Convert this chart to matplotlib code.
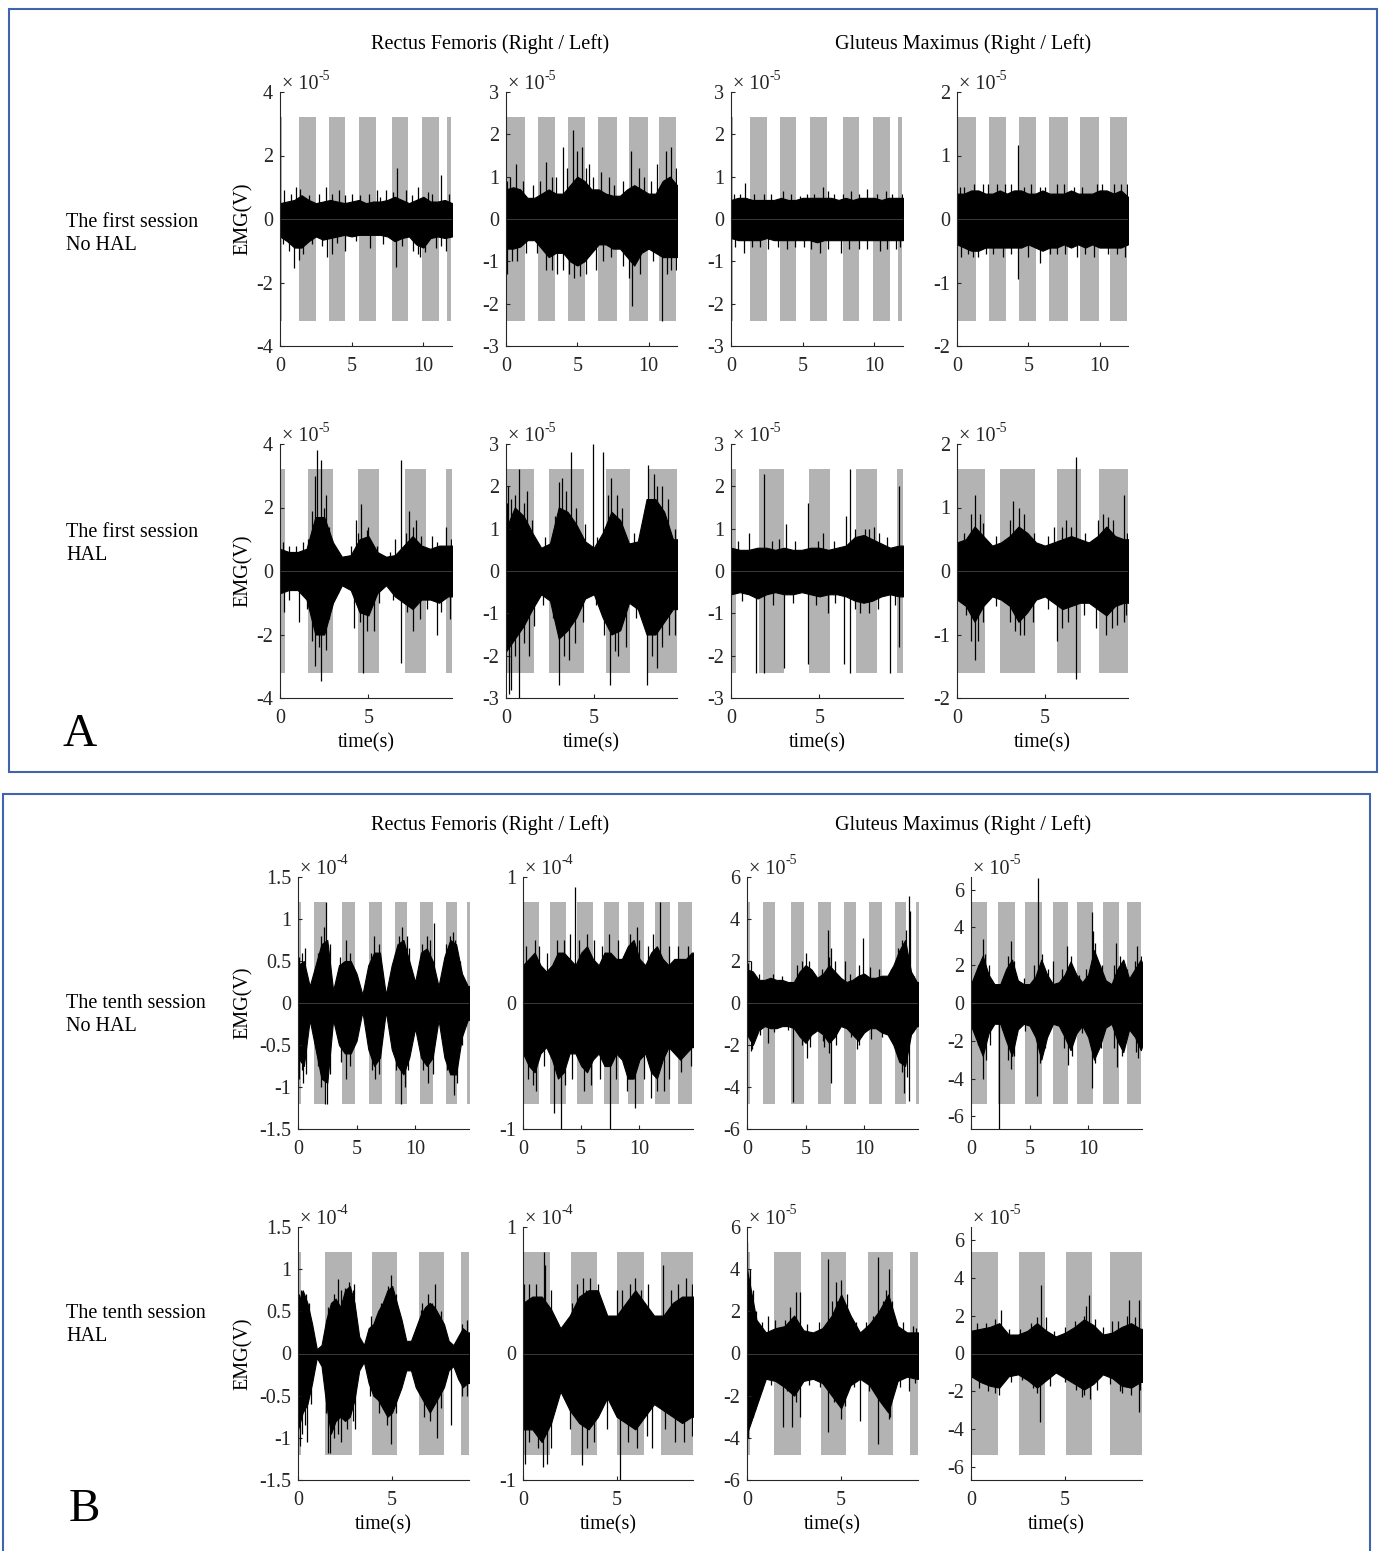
import numpy as np
import matplotlib
matplotlib.use('Agg')
import matplotlib.pyplot as plt
from matplotlib.patches import Rectangle

plt.rcParams['font.family'] = ['Liberation Serif', 'DejaVu Serif']
plt.rcParams['axes.unicode_minus'] = False

# ---------------------------------------------------------------
# data, amplitudes in units of the axis scale
# up/lo = outer envelope of the EMG trace on a regular time grid
# spk = single spikes (t, value)
# ---------------------------------------------------------------

# A, first session, no HAL  (grid 0.5 s)
s1n_bands_r = [(0, 0.13), (1.35, 2.5), (3.44, 4.55), (5.52, 6.68), (7.82, 8.91), (9.94, 11.08), (11.66, 11.94)]
s1n_bands_l = [(0, 1.35), (2.22, 3.44), (4.35, 5.51), (6.49, 7.82), (8.64, 9.94), (10.75, 11.95)]

s1n_rfr_up = [0.5, 0.55, 0.6, 0.75, 0.6, 0.5, 0.55, 0.6, 0.55, 0.5, 0.55, 0.6, 0.5, 0.55, 0.55, 0.6, 0.7, 0.6, 0.5, 0.6, 0.7, 0.55, 0.55, 0.6, 0.5]
s1n_rfr_lo = [-0.55, -0.7, -0.9, -0.9, -0.7, -0.55, -0.65, -0.6, -0.55, -0.5, -0.55, -0.5, -0.5, -0.5, -0.5, -0.55, -0.7, -0.6, -0.55, -0.8, -0.9, -0.6, -0.55, -0.6, -0.55]
s1n_rfr_spk = [(0.3, 0.9), (1.1, 1.0), (1.4, 0.95), (3.2, 1.0), (4.1, 0.9), (5.0, 0.8), (6.8, 0.9), (7.4, 0.9), (8.15, 1.6), (8.8, 0.9),
               (9.6, 1.0), (10.6, 0.8), (11.2, 1.4), (0.8, 0.8), (2.0, 0.75), (2.7, 0.8), (3.6, 0.8), (4.5, 0.75), (5.6, 0.75),
               (6.2, 0.8), (7.0, 0.7), (7.9, 0.85), (9.2, 0.75), (10.3, 0.85), (11.8, 0.8),
               (0.6, -1.0), (0.95, -1.55), (1.3, -1.3), (3.3, -1.2), (3.6, -1.1), (4.5, -1.0), (6.3, -0.9), (8.1, -1.5),
               (9.6, -1.1), (9.8, -1.2), (10.9, -0.9), (11.6, -1.0), (0.2, -0.8), (1.6, -1.1), (2.2, -0.8), (2.9, -0.85),
               (4.0, -0.75), (5.3, -0.7), (7.2, -0.8), (8.5, -0.85), (9.3, -1.0), (10.1, -1.05), (11.2, -0.85)]

s1n_rfl_up = [0.7, 0.75, 0.7, 0.5, 0.5, 0.6, 0.7, 0.6, 0.6, 0.8, 1.0, 0.9, 0.7, 0.7, 0.6, 0.55, 0.55, 0.7, 0.8, 0.7, 0.6, 0.6, 0.9, 1.0, 0.8]
s1n_rfl_lo = [-0.7, -0.7, -0.65, -0.5, -0.5, -0.7, -0.9, -0.8, -0.8, -1.0, -1.1, -1.0, -0.8, -0.6, -0.6, -0.7, -0.7, -0.9, -1.1, -0.8, -0.7, -0.8, -0.9, -0.9, -0.9]
s1n_rfl_spk = [(0.1, 0.9), (0.7, 1.3), (2.8, 1.35), (3.5, 1.0), (4.0, 1.7), (4.7, 2.1), (5.0, 1.6), (5.3, 1.7), (5.8, 1.3), (7.2, 1.0),
               (8.8, 1.6), (9.3, 1.2), (10.6, 1.3), (11.2, 1.6), (11.6, 1.7), (0.3, 1.0), (1.2, 0.9), (1.9, 0.8), (2.4, 0.9),
               (3.2, 1.0), (4.3, 1.2), (5.6, 1.2), (6.1, 1.0), (6.7, 1.1), (7.6, 0.8), (8.2, 0.9), (9.7, 1.0), (10.2, 0.9), (11.9, 1.2),
               (0.05, -1.3), (0.4, -1.0), (2.8, -1.2), (3.6, -1.3), (4.4, -1.3), (5.2, -1.35), (6.3, -1.2), (8.6, -1.4),
               (8.85, -2.05), (10.95, -2.4), (11.3, -1.3), (11.9, -1.2), (0.8, -1.0), (1.4, -0.8), (2.2, -0.8), (3.2, -1.2),
               (4.0, -1.2), (4.8, -1.4), (5.6, -1.3), (6.8, -1.0), (7.4, -0.9), (8.2, -1.1), (9.4, -1.3), (10.3, -1.0), (11.6, -1.2)]

s1n_gmr_up = [0.45, 0.5, 0.5, 0.45, 0.45, 0.45, 0.45, 0.5, 0.45, 0.45, 0.5, 0.5, 0.5, 0.5, 0.5, 0.45, 0.5, 0.45, 0.5, 0.5, 0.5, 0.45, 0.5, 0.5, 0.5]
s1n_gmr_lo = [-0.45, -0.5, -0.5, -0.5, -0.5, -0.45, -0.5, -0.5, -0.5, -0.5, -0.5, -0.5, -0.55, -0.5, -0.5, -0.5, -0.5, -0.5, -0.5, -0.5, -0.5, -0.5, -0.5, -0.5, -0.5]
s1n_gmr_spk = [(0.2, 0.6), (1.0, 0.86), (2.3, 0.6), (3.6, 0.65), (5.3, 0.6), (6.4, 0.75), (7.2, 0.6), (8.4, 0.65), (9.5, 0.7), (11.2, 0.6),
               (11.9, 0.6), (0.6, 0.6), (1.6, 0.6), (2.8, 0.6), (4.2, 0.6), (4.8, 0.55), (5.8, 0.6), (6.8, 0.65), (7.8, 0.6),
               (8.9, 0.6), (10.2, 0.6), (10.8, 0.65),
               (0.9, -0.8), (2.0, -0.65), (3.9, -0.7), (5.1, -0.65), (6.2, -0.8), (7.7, -0.8), (8.9, -0.7), (10.4, -0.75),
               (11.5, -0.7), (0.3, -0.65), (1.5, -0.65), (2.6, -0.7), (3.3, -0.65), (4.5, -0.65), (5.6, -0.7), (6.8, -0.7),
               (8.2, -0.7), (9.5, -0.7), (10.9, -0.7), (11.8, -0.65)]

s1n_gml_up = [0.4, 0.4, 0.45, 0.45, 0.4, 0.4, 0.45, 0.4, 0.45, 0.45, 0.4, 0.4, 0.45, 0.4, 0.4, 0.4, 0.45, 0.4, 0.4, 0.4, 0.45, 0.45, 0.4, 0.45, 0.35]
s1n_gml_lo = [-0.4, -0.45, -0.5, -0.5, -0.45, -0.45, -0.45, -0.45, -0.45, -0.45, -0.4, -0.45, -0.5, -0.45, -0.45, -0.4, -0.45, -0.4, -0.45, -0.4, -0.45, -0.45, -0.45, -0.45, -0.4]
s1n_gml_spk = [(0.5, 0.5), (1.8, 0.55), (3.4, 0.55), (4.3, 1.17), (4.7, 0.5), (6.2, 0.5), (8.2, 0.5), (9.8, 0.55), (11.5, 0.55),
               (0.2, 0.5), (1.2, 0.55), (2.2, 0.55), (2.8, 0.55), (3.8, 0.55), (5.2, 0.55), (5.8, 0.5), (7.0, 0.55), (7.5, 0.55),
               (8.8, 0.5), (10.2, 0.55), (11.0, 0.55), (11.9, 0.55),
               (0.8, -0.55), (1.5, -0.6), (2.5, -0.55), (4.3, -0.95), (5.8, -0.7), (7.0, -0.55), (9.0, -0.55), (10.6, -0.55),
               (11.8, -0.6), (0.3, -0.6), (1.1, -0.6), (2.0, -0.55), (3.2, -0.6), (3.8, -0.55), (5.0, -0.6), (6.5, -0.55),
               (7.6, -0.55), (8.4, -0.6), (9.6, -0.6), (11.2, -0.55)]

# A, first session, HAL  (grid 0.5 s)
s1h_bands_r = [(0, 0.28), (1.6, 2.98), (4.43, 5.6), (7.07, 8.25), (9.4, 9.73)]
s1h_bands_l = [(0, 1.6), (2.42, 4.43), (5.68, 7.08), (8.07, 9.75)]

s1h_rfr_up = [0.7, 0.6, 0.6, 0.7, 1.7, 1.7, 0.9, 0.45, 0.5, 1.0, 1.1, 0.6, 0.45, 0.5, 0.8, 1.1, 0.8, 0.7, 0.8, 0.8, 0.8]
s1h_rfr_lo = [-0.7, -0.6, -0.6, -0.9, -2.0, -2.0, -1.0, -0.45, -0.6, -1.3, -1.4, -0.7, -0.45, -0.8, -1.0, -1.2, -0.9, -0.9, -1.0, -0.8, -0.8]
s1h_rfr_spk = [(0.15, 0.9), (1.3, 0.9), (2.0, 3.0), (2.1, 3.8), (2.3, 3.5), (2.6, 2.4), (4.3, 1.6), (4.6, 2.1), (5.0, 1.4), (6.5, 1.0),
               (6.85, 3.5), (7.3, 1.9), (7.7, 1.6), (8.6, 1.1), (9.4, 1.4), (0.5, 0.8), (0.9, 0.8), (1.6, 1.0), (1.8, 1.9),
               (2.5, 2.0), (2.8, 1.4), (3.3, 0.6), (4.0, 0.8), (4.4, 1.2), (4.9, 1.3), (5.5, 0.8), (6.2, 0.6), (7.1, 1.2),
               (7.5, 1.4), (8.0, 1.1), (8.9, 0.9), (9.7, 1.0),
               (0.2, -1.3), (1.1, -1.6), (2.0, -3.0), (2.3, -3.45), (2.6, -2.5), (4.2, -1.8), (4.7, -3.2), (5.3, -1.9),
               (6.85, -2.9), (7.5, -1.9), (8.9, -2.0), (9.6, -1.5), (0.5, -0.9), (1.5, -1.2), (1.8, -2.2), (2.2, -2.4),
               (2.8, -1.5), (3.3, -0.7), (4.5, -1.6), (4.9, -1.9), (5.6, -1.0), (6.4, -0.9), (7.2, -1.3), (7.9, -1.5),
               (8.3, -1.2), (9.1, -1.3)]

s1h_rfl_up = [1.0, 1.5, 1.3, 0.9, 0.55, 0.65, 1.5, 1.4, 1.1, 0.7, 0.55, 0.9, 1.4, 1.2, 0.65, 0.7, 1.7, 1.7, 1.4, 0.75, 0.75]
s1h_rfl_lo = [-1.9, -1.6, -1.3, -0.9, -0.55, -0.7, -1.6, -1.4, -1.1, -0.65, -0.55, -1.1, -1.5, -1.4, -0.75, -0.9, -1.5, -1.5, -1.2, -0.9, -0.9]
s1h_rfl_spk = [(0.05, 1.6), (0.1, 2.0), (0.75, 2.4), (1.2, 1.9), (3.0, 2.1), (3.2, 2.2), (3.7, 2.8), (4.95, 3.0), (5.5, 2.8), (6.0, 2.2),
               (6.3, 1.8), (8.1, 2.5), (8.4, 2.3), (8.9, 2.0), (0.3, 1.7), (0.5, 1.8), (1.0, 1.6), (1.5, 1.2), (2.2, 0.8),
               (2.8, 1.3), (3.4, 1.9), (4.0, 1.5), (4.5, 1.1), (5.2, 0.8), (5.8, 1.8), (6.6, 1.5), (7.3, 0.9), (7.8, 1.2),
               (8.6, 2.0), (9.2, 1.7), (9.6, 1.0),
               (0.15, -2.9), (0.3, -2.8), (0.75, -3.0), (1.3, -2.0), (3.0, -2.7), (3.6, -2.1), (5.9, -2.7), (6.4, -2.0),
               (8.0, -2.7), (8.6, -2.3), (9.6, -1.5), (0.5, -2.0), (1.0, -1.7), (1.6, -1.3), (2.1, -0.8), (2.7, -1.1),
               (3.3, -2.0), (3.9, -1.7), (4.4, -1.2), (5.1, -0.8), (5.6, -1.5), (6.2, -1.9), (6.8, -1.8), (7.4, -1.1),
               (8.3, -2.0), (8.9, -1.8), (9.3, -1.5)]

s1h_gmr_up = [0.55, 0.5, 0.5, 0.55, 0.55, 0.5, 0.55, 0.5, 0.5, 0.55, 0.55, 0.5, 0.55, 0.6, 0.8, 0.85, 0.75, 0.65, 0.55, 0.6, 0.6]
s1h_gmr_lo = [-0.55, -0.5, -0.55, -0.65, -0.55, -0.5, -0.55, -0.55, -0.5, -0.55, -0.6, -0.55, -0.55, -0.6, -0.7, -0.75, -0.7, -0.6, -0.55, -0.6, -0.6]
s1h_gmr_spk = [(1.0, 0.9), (1.85, 2.3), (3.1, 1.1), (4.35, 1.6), (5.2, 0.9), (6.5, 1.3), (6.75, 2.4), (7.6, 1.0), (8.4, 0.9), (9.5, 2.0),
               (0.4, 0.7), (2.3, 0.7), (2.7, 0.75), (3.6, 0.7), (4.9, 0.7), (5.8, 0.7), (7.0, 1.0), (7.8, 1.0), (8.1, 1.05), (8.8, 0.8),
               (1.4, -2.4), (1.85, -2.4), (3.0, -2.3), (4.35, -2.2), (5.5, -1.0), (6.4, -2.2), (6.75, -2.4), (7.3, -1.0),
               (9.0, -2.4), (9.5, -1.8), (0.6, -0.7), (2.4, -0.8), (3.5, -0.75), (4.8, -0.8), (5.9, -0.75), (7.0, -0.9),
               (7.8, -1.0), (8.3, -0.9), (9.3, -0.8)]

s1h_gml_up = [0.45, 0.5, 0.7, 0.55, 0.4, 0.45, 0.55, 0.7, 0.6, 0.45, 0.4, 0.45, 0.5, 0.55, 0.5, 0.45, 0.55, 0.7, 0.55, 0.5, 0.5]
s1h_gml_lo = [-0.45, -0.55, -0.8, -0.55, -0.4, -0.45, -0.55, -0.8, -0.65, -0.45, -0.4, -0.5, -0.6, -0.55, -0.5, -0.5, -0.6, -0.7, -0.55, -0.5, -0.5]
s1h_gml_spk = [(1.0, 1.2), (1.3, 0.9), (3.2, 1.1), (3.5, 1.0), (5.5, 0.7), (6.2, 0.8), (6.75, 1.8), (8.3, 0.9), (8.6, 0.85), (9.5, 1.2),
               (0.4, 0.6), (0.8, 0.9), (1.5, 0.75), (2.2, 0.55), (3.0, 0.8), (3.8, 0.9), (4.4, 0.6), (5.2, 0.55), (6.0, 0.7),
               (6.5, 0.7), (7.3, 0.6), (8.0, 0.8), (8.9, 0.8), (9.7, 0.6),
               (1.0, -1.4), (1.2, -1.1), (3.3, -0.95), (3.6, -1.0), (5.7, -1.1), (6.0, -0.9), (6.75, -1.7), (8.5, -1.0),
               (9.1, -0.85), (9.5, -0.8), (0.5, -0.7), (0.8, -1.1), (1.5, -0.8), (2.2, -0.55), (3.0, -0.8), (3.8, -1.0),
               (4.3, -0.8), (5.2, -0.6), (6.3, -0.8), (7.2, -0.7), (7.9, -0.9), (8.8, -0.9), (9.6, -0.7)]

# B, tenth session, no HAL  (grid 0.5 s)
s10n_bands_r = [(0, 0.23), (1.4, 2.4), (3.75, 4.86), (6.07, 7.2), (8.3, 9.27), (10.45, 11.5), (12.65, 13.58), (14.4, 14.7)]
s10n_bands_l = [(0, 1.4), (2.3, 3.72), (4.63, 6.02), (6.96, 8.28), (9.03, 10.38), (11.3, 12.63), (13.33, 14.55)]

s10n_rfr_up = [0.45, 0.5, 0.2, 0.45, 0.7, 0.75, 0.15, 0.45, 0.5, 0.5, 0.35, 0.1, 0.45, 0.6, 0.6, 0.1, 0.45, 0.7, 0.75, 0.5, 0.25, 0.6, 0.65, 0.5, 0.2, 0.55, 0.75, 0.7, 0.35, 0.2, 0.2]
s10n_rfr_lo = [-0.65, -0.75, -0.2, -0.55, -0.9, -0.95, -0.2, -0.5, -0.6, -0.6, -0.45, -0.1, -0.55, -0.75, -0.65, -0.1, -0.55, -0.75, -0.85, -0.65, -0.3, -0.65, -0.75, -0.65, -0.2, -0.65, -0.85, -0.85, -0.4, -0.2, -0.2]
s10n_rfr_spk = [(0.3, 0.6), (2.2, 0.9), (2.4, 1.2), (4.1, 0.75), (6.5, 0.8), (8.9, 0.9), (9.3, 0.8), (11.0, 0.8), (11.6, 0.95), (13.0, 0.8),
                (13.4, 0.75), (0.1, 0.55), (0.6, 0.65), (1.7, 0.6), (2.0, 0.8), (2.7, 0.7), (3.6, 0.55), (4.4, 0.6), (6.2, 0.6),
                (6.9, 0.7), (8.3, 0.6), (8.6, 0.8), (9.5, 0.65), (10.6, 0.7), (11.3, 0.75), (12.6, 0.7), (13.2, 0.85), (13.8, 0.5),
                (0.05, -0.9), (0.45, -0.95), (2.3, -1.2), (2.5, -1.2), (4.1, -0.9), (6.6, -0.9), (8.8, -1.2), (9.1, -1.0),
                (11.1, -0.95), (13.3, -1.1), (0.3, -0.8), (0.7, -0.85), (1.7, -0.75), (2.0, -1.0), (2.7, -0.85), (3.7, -0.7),
                (4.4, -0.75), (6.3, -0.8), (6.9, -0.85), (8.4, -0.8), (9.4, -0.8), (10.7, -0.8), (11.5, -0.85), (12.7, -0.8),
                (13.6, -0.95), (14.0, -0.5)]

s10n_rfl_up = [0.3, 0.35, 0.4, 0.3, 0.25, 0.3, 0.4, 0.4, 0.35, 0.3, 0.4, 0.45, 0.35, 0.3, 0.4, 0.4, 0.35, 0.35, 0.45, 0.5, 0.35, 0.3, 0.4, 0.45, 0.35, 0.3, 0.35, 0.35, 0.35, 0.4, 0.4]
s10n_rfl_lo = [-0.4, -0.5, -0.55, -0.4, -0.35, -0.45, -0.6, -0.55, -0.4, -0.4, -0.5, -0.55, -0.45, -0.4, -0.5, -0.5, -0.4, -0.45, -0.6, -0.6, -0.45, -0.4, -0.55, -0.6, -0.45, -0.35, -0.4, -0.45, -0.4, -0.35, -0.35]
s10n_rfl_spk = [(4.45, 0.92), (11.8, 0.8), (7.4, 0.55), (2.9, 0.5), (5.5, 0.55), (9.8, 0.6), (10.7, 0.45), (1.0, 0.5),
                (0.3, 0.45), (1.4, 0.45), (2.1, 0.4), (3.5, 0.5), (4.0, 0.55), (4.8, 0.5), (6.1, 0.5), (6.8, 0.45), (8.2, 0.5),
                (9.2, 0.55), (10.0, 0.5), (11.2, 0.55), (12.5, 0.45), (13.3, 0.45), (14.2, 0.45),
                (3.25, -1.0), (7.45, -1.0), (2.7, -0.87), (9.6, -0.83), (11.0, -0.75), (5.2, -0.7), (12.1, -0.7), (0.9, -0.65),
                (0.4, -0.6), (1.1, -0.7), (1.8, -0.5), (3.6, -0.65), (4.2, -0.6), (5.8, -0.65), (6.6, -0.6), (8.0, -0.6),
                (8.9, -0.7), (10.4, -0.6), (11.5, -0.7), (12.5, -0.6), (13.6, -0.55), (14.4, -0.5)]

s10n_gmr_up = [1.6, 1.5, 1.1, 1.1, 1.2, 1.1, 1.1, 1.0, 1.0, 1.5, 1.8, 1.6, 1.2, 1.4, 1.8, 1.5, 1.2, 1.0, 1.1, 1.3, 1.4, 1.2, 1.2, 1.3, 1.3, 1.8, 2.5, 3.0, 1.5, 1.0, 1.0]
s10n_gmr_lo = [-1.5, -2.0, -1.3, -1.1, -1.2, -1.2, -1.1, -1.1, -1.2, -1.6, -1.9, -1.5, -1.3, -1.5, -1.9, -1.6, -1.1, -1.2, -1.5, -1.8, -1.4, -1.2, -1.2, -1.4, -1.5, -2.0, -2.8, -3.0, -1.5, -1.1, -1.1]
s10n_gmr_spk = [(0.05, 1.9), (5.0, 2.4), (6.9, 3.5), (7.2, 2.6), (9.9, 3.1), (8.4, 2.0), (13.8, 5.1), (13.9, 4.4), (12.9, 2.6), (4.3, 1.8),
                (0.3, 2.0), (1.0, 1.4), (2.2, 1.4), (3.0, 1.3), (4.7, 2.0), (5.3, 2.0), (6.4, 1.6), (7.0, 2.2), (7.5, 2.0),
                (8.8, 1.4), (9.6, 1.8), (10.5, 1.7), (11.3, 1.6), (12.3, 1.6), (12.7, 2.0), (13.2, 3.0), (13.6, 3.5), (14.3, 1.3),
                (0.3, -2.3), (3.9, -4.7), (5.1, -2.6), (7.2, -3.8), (9.4, -2.2), (13.4, -4.3), (13.85, -4.65), (1.8, -1.9),
                (6.6, -2.1), (0.4, -2.2), (1.1, -1.5), (2.3, -1.4), (3.5, -1.3), (4.7, -2.0), (5.4, -2.1), (6.5, -1.8),
                (7.0, -2.4), (7.6, -2.0), (8.9, -1.6), (9.6, -2.0), (10.6, -1.7), (11.5, -1.6), (12.4, -1.8), (12.9, -2.5),
                (13.2, -3.3), (13.7, -3.5), (14.2, -1.4)]

s10n_gml_up = [1.0, 1.8, 2.5, 1.5, 1.0, 1.0, 1.8, 2.3, 1.2, 1.0, 1.0, 1.4, 2.3, 1.5, 1.0, 1.1, 1.5, 2.2, 1.5, 1.1, 1.5, 2.8, 2.0, 1.2, 1.0, 1.8, 2.3, 1.3, 1.8, 2.3, 1.5]
s10n_gml_lo = [-1.2, -2.0, -2.8, -1.6, -1.1, -1.1, -2.0, -2.8, -1.4, -1.1, -1.2, -1.8, -3.0, -1.8, -1.1, -1.2, -1.8, -2.5, -1.6, -1.2, -1.8, -3.0, -2.3, -1.3, -1.1, -2.0, -2.6, -1.4, -1.8, -2.5, -1.5]
s10n_gml_spk = [(1.0, 3.4), (3.4, 3.3), (5.7, 6.6), (8.2, 3.0), (10.3, 4.8), (10.4, 3.8), (12.4, 3.2), (14.2, 3.0), (7.0, 2.2),
                (0.6, 2.0), (1.2, 2.6), (1.5, 2.0), (2.8, 1.4), (3.2, 2.5), (3.7, 2.2), (4.5, 1.3), (5.4, 2.0), (6.1, 2.6),
                (6.6, 1.8), (7.8, 1.8), (8.5, 2.5), (9.2, 1.5), (9.8, 1.8), (10.6, 3.2), (11.2, 2.0), (12.2, 2.0), (12.7, 2.5),
                (13.3, 1.8), (14.0, 2.2), (14.5, 2.5),
                (1.0, -4.0), (2.4, -6.67), (3.4, -3.5), (5.6, -4.9), (8.3, -3.3), (10.3, -4.5), (12.5, -3.4), (14.3, -2.9),
                (0.6, -2.2), (1.3, -3.0), (1.6, -2.2), (3.2, -3.0), (3.7, -2.8), (4.6, -1.5), (5.9, -3.2), (6.3, -2.4),
                (7.9, -2.4), (8.6, -2.8), (9.5, -1.6), (10.6, -3.2), (11.1, -2.4), (12.2, -2.4), (12.9, -2.8), (14.1, -2.6),
                (14.5, -2.3)]

# B, tenth session, HAL  (grid 0.5 s, RF right 0.25 s)
s10h_bands_r = [(0, 0.16), (1.44, 2.88), (3.92, 5.26), (6.45, 7.73), (8.67, 9.1)]
s10h_bands_l = [(0, 1.45), (2.56, 3.93), (5.02, 6.45), (7.38, 9.1)]

s10h_rfr_up = [0.6, 0.75, 0.6, 0.35, 0.05, 0.1, 0.4, 0.6, 0.65, 0.55, 0.75, 0.8, 0.6, 0.2, 0.1, 0.3, 0.35, 0.5, 0.6, 0.75, 0.8, 0.6, 0.4, 0.15, 0.15, 0.3, 0.45, 0.55, 0.6, 0.55, 0.45, 0.35, 0.15, 0.1, 0.2, 0.3, 0.25, 0.25]
s10h_rfr_lo = [-0.9, -0.7, -0.6, -0.35, -0.05, -0.15, -0.6, -0.95, -0.8, -0.75, -0.8, -0.75, -0.55, -0.2, -0.1, -0.35, -0.5, -0.55, -0.65, -0.75, -0.7, -0.55, -0.4, -0.2, -0.2, -0.4, -0.5, -0.6, -0.7, -0.6, -0.5, -0.4, -0.2, -0.15, -0.3, -0.4, -0.35, -0.35]
s10h_rfr_spk = [(0.15, 0.75), (2.1, 0.88), (2.5, 0.78), (3.0, 0.82), (4.95, 0.93), (7.25, 0.82), (6.55, 0.52),
                (0.05, 0.7), (0.4, 0.7), (0.6, 0.6), (1.6, 0.55), (1.9, 0.7), (2.3, 0.75), (2.7, 0.85), (2.9, 0.75), (3.9, 0.45),
                (4.4, 0.6), (4.8, 0.8), (5.2, 0.7), (6.6, 0.6), (6.9, 0.7), (7.1, 0.6), (7.6, 0.5), (8.7, 0.35), (9.0, 0.4),
                (0.1, -1.1), (0.5, -1.05), (1.6, -1.18), (1.7, -1.18), (2.3, -1.05), (3.05, -0.9), (4.95, -1.07), (7.4, -1.0),
                (8.1, -0.85), (0.2, -0.95), (0.35, -0.85), (0.7, -0.6), (1.5, -0.7), (1.9, -1.0), (2.1, -0.95), (2.6, -0.9),
                (2.9, -0.8), (3.8, -0.5), (4.3, -0.7), (4.7, -0.85), (5.2, -0.7), (6.7, -0.75), (7.0, -0.8), (7.6, -0.65),
                (8.7, -0.5), (9.0, -0.5)]

s10h_rfl_up = [0.4, 0.45, 0.45, 0.35, 0.2, 0.3, 0.45, 0.5, 0.5, 0.3, 0.3, 0.4, 0.5, 0.4, 0.3, 0.3, 0.4, 0.45, 0.45, 0.45]
s10h_rfl_lo = [-0.6, -0.6, -0.7, -0.55, -0.3, -0.45, -0.55, -0.6, -0.5, -0.35, -0.5, -0.55, -0.6, -0.5, -0.4, -0.45, -0.5, -0.55, -0.5, -0.5]
s10h_rfl_spk = [(0.05, 0.55), (1.1, 0.8), (1.2, 0.7), (3.2, 0.6), (3.35, 0.5), (5.0, 0.5), (6.3, 0.5), (6.7, 0.55), (7.5, 0.7), (9.0, 0.5),
                (0.3, 0.55), (0.7, 0.55), (1.5, 0.5), (2.6, 0.4), (2.9, 0.55), (3.6, 0.6), (4.0, 0.55), (5.3, 0.5), (5.7, 0.55),
                (6.0, 0.6), (7.9, 0.5), (8.3, 0.55), (8.7, 0.6), (9.05, 0.55),
                (0.1, -0.87), (1.05, -0.9), (1.3, -0.87), (3.15, -0.88), (5.2, -1.0), (6.9, -0.75), (4.5, -0.6),
                (0.3, -0.7), (0.8, -0.75), (1.5, -0.75), (2.5, -0.6), (3.4, -0.75), (3.8, -0.7), (5.6, -0.7), (6.1, -0.75),
                (6.6, -0.65), (7.6, -0.6), (8.1, -0.7), (8.6, -0.7), (9.0, -0.65)]

s10h_gmr_up = [4.0, 1.6, 1.0, 1.2, 1.3, 1.8, 1.1, 1.0, 1.2, 1.8, 2.8, 1.8, 1.0, 1.4, 2.0, 2.8, 1.3, 1.0, 1.0, 1.0]
s10h_gmr_lo = [-3.8, -2.5, -1.2, -1.3, -1.6, -2.0, -1.3, -1.2, -1.4, -2.0, -2.6, -1.5, -1.2, -1.5, -2.2, -2.8, -1.3, -1.1, -1.2, -1.2]
s10h_gmr_spk = [(0.02, 5.3), (0.15, 4.0), (0.3, 3.0), (2.6, 2.9), (2.8, 2.9), (4.3, 4.5), (4.7, 3.4), (5.0, 3.5), (6.95, 4.6), (7.55, 4.0),
                (1.1, 1.8), (0.5, 2.0), (0.8, 1.5), (1.5, 1.6), (2.0, 1.6), (2.3, 2.2), (3.2, 1.4), (3.8, 1.5), (4.5, 2.5),
                (4.8, 2.5), (5.3, 2.8), (5.8, 1.5), (6.3, 1.5), (6.7, 1.8), (7.2, 2.5), (7.4, 3.0), (7.7, 2.5), (8.3, 1.5),
                (8.8, 1.3), (9.0, 1.2),
                (0.05, -4.0), (0.3, -3.0), (0.6, -2.2), (1.9, -3.5), (2.4, -3.5), (2.8, -3.0), (4.3, -3.7), (5.0, -3.1),
                (6.0, -3.2), (6.95, -4.3), (7.55, -3.1), (8.6, -1.8), (0.4, -2.7), (0.8, -1.7), (1.3, -1.5), (2.1, -1.8),
                (2.6, -2.3), (3.3, -1.5), (3.9, -1.6), (4.6, -2.3), (5.2, -2.5), (5.7, -1.6), (6.5, -1.8), (7.3, -2.5),
                (7.6, -3.0), (8.1, -1.6), (8.9, -1.4)]

s10h_gml_up = [1.2, 1.3, 1.4, 1.6, 1.0, 1.0, 1.2, 1.6, 1.2, 0.9, 1.1, 1.4, 1.8, 1.5, 1.0, 1.1, 1.4, 1.6, 1.3, 1.3]
s10h_gml_lo = [-1.2, -1.5, -1.7, -1.8, -1.2, -1.1, -1.4, -1.8, -1.4, -1.0, -1.3, -1.6, -1.9, -1.6, -1.1, -1.3, -1.7, -1.8, -1.5, -1.5]
s10h_gml_spk = [(1.6, 2.3), (3.7, 3.6), (4.0, 1.9), (6.25, 3.1), (6.1, 2.5), (8.4, 2.8), (8.9, 2.8), (7.5, 1.7),
                (0.3, 1.6), (0.8, 1.6), (1.3, 1.8), (2.0, 1.3), (2.6, 1.3), (3.2, 1.6), (3.5, 1.9), (4.4, 1.2), (5.0, 1.4),
                (5.5, 1.7), (6.0, 2.0), (6.6, 1.8), (7.0, 1.4), (7.8, 1.7), (8.3, 2.0), (8.7, 1.9),
                (1.5, -2.2), (3.65, -3.6), (5.9, -2.3), (6.3, -2.4), (8.9, -3.1), (7.9, -2.0), (0.4, -1.8), (0.9, -2.0),
                (1.3, -2.1), (2.1, -1.5), (2.7, -1.4), (3.3, -1.8), (3.5, -2.1), (4.2, -1.7), (5.0, -1.5), (5.6, -1.9),
                (6.0, -2.2), (6.7, -1.9), (7.4, -1.6), (8.0, -2.1), (8.5, -2.2), (9.0, -1.9)]

# axis settings per column: y limit, y ticks, exponent
lim_s1 = [4, 3, 3, 2]
ticks_s1 = [[-4, -2, 0, 2, 4], [-3, -2, -1, 0, 1, 2, 3], [-3, -2, -1, 0, 1, 2, 3], [-2, -1, 0, 1, 2]]
exp_s1 = [-5, -5, -5, -5]
lim_s10 = [1.5, 1, 6, 6.67]
ticks_s10 = [[-1.5, -1, -0.5, 0, 0.5, 1, 1.5], [-1, 0, 1], [-6, -4, -2, 0, 2, 4, 6], [-6, -4, -2, 0, 2, 4, 6]]
exp_s10 = [-4, -4, -5, -5]

# ---------------------------------------------------------------
W, H = 1384, 1551
fig = plt.figure(figsize=(W / 100, H / 100), dpi=100)
FS = 14.5
AX_COL = '#262626'


def add_ax(x0, x1, y0, y1):
    return fig.add_axes([x0 / W, 1 - y1 / H, (x1 - x0) / W, (y1 - y0) / H])


def draw(ax, step, up, lo, spk, bands, xmax, lim, yticks, xticks, exp):
    t = np.arange(len(up)) * step
    h = 0.8 * lim
    for a, b in bands:
        ax.fill_between([a, b], -h, h, color='#b3b3b3', lw=0)
    ax.fill_between(t, lo, up, color='k', lw=0.8, edgecolor='k')
    st = [s[0] for s in spk]
    sv = [s[1] for s in spk]
    ax.vlines(st, 0, sv, color='k', lw=0.9)
    ax.axhline(0, color='#3a3a3a', lw=0.7)
    ax.set_xlim(0, xmax)
    ax.set_ylim(-lim, lim)
    ax.set_yticks(yticks, ['%g' % v for v in yticks])
    ax.set_xticks(xticks, ['%g' % v for v in xticks])
    for s in ['top', 'right']:
        ax.spines[s].set_visible(False)
    for s in ['left', 'bottom']:
        ax.spines[s].set_color(AX_COL)
        ax.spines[s].set_linewidth(0.8)
    ax.tick_params(direction='in', length=3, width=0.8, color=AX_COL,
                   labelsize=FS, labelcolor=AX_COL)
    ax.tick_params(axis='x', pad=8)
    ax.tick_params(axis='y', pad=5)
    # "x10^exp" scale label, matlab style
    ax.annotate('\u00d7 10', xy=(0, 1), xycoords='axes fraction', xytext=(1.5, 2.5),
                textcoords='offset points', ha='left', va='baseline', fontsize=FS, color=AX_COL)
    ax.annotate('-%d' % (-exp), xy=(0, 1), xycoords='axes fraction', xytext=(28, 9),
                textcoords='offset points', ha='left', va='baseline', fontsize=10, color=AX_COL)


cols_a = [(280, 452), (506, 677), (731, 903), (957, 1128)]
cols_b = [(298, 469), (523, 693), (747, 918), (971, 1142)]

rows = [
    # (y0, y1, cols, xmax, xticks, lims, ticks, exps, panels)
    (92, 346, cols_a, 12.0, [0, 5, 10], lim_s1, ticks_s1, exp_s1,
     [(0.5, s1n_rfr_up, s1n_rfr_lo, s1n_rfr_spk, s1n_bands_r),
      (0.5, s1n_rfl_up, s1n_rfl_lo, s1n_rfl_spk, s1n_bands_l),
      (0.5, s1n_gmr_up, s1n_gmr_lo, s1n_gmr_spk, s1n_bands_r),
      (0.5, s1n_gml_up, s1n_gml_lo, s1n_gml_spk, s1n_bands_l)]),
    (444, 698, cols_a, 9.73, [0, 5], lim_s1, ticks_s1, exp_s1,
     [(0.5, s1h_rfr_up, s1h_rfr_lo, s1h_rfr_spk, s1h_bands_r),
      (0.5, s1h_rfl_up, s1h_rfl_lo, s1h_rfl_spk, s1h_bands_l),
      (0.5, s1h_gmr_up, s1h_gmr_lo, s1h_gmr_spk, s1h_bands_r),
      (0.5, s1h_gml_up, s1h_gml_lo, s1h_gml_spk, s1h_bands_l)]),
    (877, 1129, cols_b, 14.6, [0, 5, 10], lim_s10, ticks_s10, exp_s10,
     [(0.5, s10n_rfr_up, s10n_rfr_lo, s10n_rfr_spk, s10n_bands_r),
      (0.5, s10n_rfl_up, s10n_rfl_lo, s10n_rfl_spk, s10n_bands_l),
      (0.5, s10n_gmr_up, s10n_gmr_lo, s10n_gmr_spk, s10n_bands_r),
      (0.5, s10n_gml_up, s10n_gml_lo, s10n_gml_spk, s10n_bands_l)]),
    (1227, 1480, cols_b, 9.08, [0, 5], lim_s10, ticks_s10, exp_s10,
     [(0.25, s10h_rfr_up, s10h_rfr_lo, s10h_rfr_spk, s10h_bands_r),
      (0.5, s10h_rfl_up, s10h_rfl_lo, s10h_rfl_spk, s10h_bands_l),
      (0.5, s10h_gmr_up, s10h_gmr_lo, s10h_gmr_spk, s10h_bands_r),
      (0.5, s10h_gml_up, s10h_gml_lo, s10h_gml_spk, s10h_bands_l)]),
]

for ri, (y0, y1, cols, xmax, xticks, lims, ticks, exps, panels) in enumerate(rows):
    for ci, (x0, x1) in enumerate(cols):
        ax = add_ax(x0, x1, y0, y1)
        step, up, lo, spk, bands = panels[ci]
        draw(ax, step, up, lo, spk, bands, xmax, lims[ci], ticks[ci], xticks, exps[ci])
        if ri in (1, 3):
            fig.text((x0 + x1) / 2 / W, 1 - (y1 + 45) / H, 'time(s)', ha='center', va='center', fontsize=FS)
    fig.text(243 / W, 1 - (y0 + y1) / 2 / H, 'EMG(V)', rotation=90, ha='center', va='center', fontsize=FS)

# row labels
row_labels = ['The first session\nNo HAL', 'The first session\nHAL', 'The tenth session\nNo HAL', 'The tenth session\nHAL']
row_label_y = [234, 544, 1015, 1325]
for lab, y in zip(row_labels, row_label_y):
    fig.text(66 / W, 1 - y / H, lab, ha='left', va='center', fontsize=FS, linespacing=1.25)

# muscle titles
for y in (44, 825):
    fig.text(490 / W, 1 - y / H, 'Rectus Femoris (Right / Left)', ha='center', va='center', fontsize=FS)
    fig.text(963 / W, 1 - y / H, 'Gluteus Maximus (Right / Left)', ha='center', va='center', fontsize=FS)

fig.text(80 / W, 1 - 735 / H, 'A', ha='center', va='center', fontsize=34)
fig.text(84 / W, 1 - 1510 / H, 'B', ha='center', va='center', fontsize=34)

# frames
box_col = '#4065ad'
fig.patches.append(Rectangle((9 / W, 1 - 772 / H), 1368 / W, 763 / H, transform=fig.transFigure,
                             fill=False, ec=box_col, lw=1.5))
fig.patches.append(Rectangle((3 / W, -3 / H), 1367 / W, (1551 - 794 + 3) / H, transform=fig.transFigure,
                             fill=False, ec=box_col, lw=1.5))

fig.savefig('out.png', dpi=100)
